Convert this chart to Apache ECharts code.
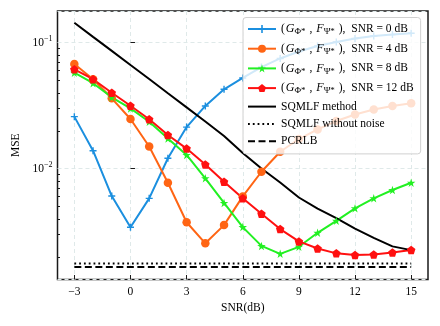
<!DOCTYPE html>
<html>
<head>
<meta charset="utf-8">
<script src="https://cdn.jsdelivr.net/npm/echarts@6/dist/echarts.min.js"></script>
<style>
  html, body { margin: 0; padding: 0; background: #fff; }
  #chart { width: 440px; height: 326px; }
</style>
</head>
<body>
<div id="chart"></div>
<script>
// SNR (dB) on the x axis
var snr = [-3, -2, -1, 0, 1, 2, 3, 4, 5, 6, 7, 8, 9, 10, 11, 12, 13, 14, 15];
var xTicks = [-3, 0, 3, 6, 9, 12, 15];
// minor ticks of the log MSE axis
var yMinor = [0.002, 0.003, 0.004, 0.005, 0.006, 0.007, 0.008, 0.009,
              0.02, 0.03, 0.04, 0.05, 0.06, 0.07, 0.08, 0.09];

// MSE values
var mse0dB  = [0.0259, 0.0139, 0.00607, 0.00343, 0.00582, 0.0121, 0.0214, 0.0315, 0.0427, 0.0525,
               0.0641, 0.0750, 0.0852, 0.0942, 0.1013, 0.108, 0.113, 0.116, 0.119];
var mse4dB  = [0.0678, 0.0513, 0.0362, 0.0248, 0.0150, 0.00774, 0.00376, 0.00256, 0.00357, 0.00603,
               0.00946, 0.01364, 0.0172, 0.0205, 0.0239, 0.0269, 0.0295, 0.0315, 0.0331];
var mse8dB  = [0.0578, 0.0477, 0.0369, 0.0301, 0.0236, 0.0174, 0.01285, 0.00839, 0.00535, 0.00344,
               0.00244, 0.00211, 0.00240, 0.00310, 0.00386, 0.00485, 0.00582, 0.00678, 0.00774];
var mse12dB = [0.0615, 0.0513, 0.0401, 0.0316, 0.0247, 0.0185, 0.01445, 0.01079, 0.00788, 0.00582,
               0.00440, 0.00332, 0.00265, 0.00233, 0.00213, 0.00207, 0.00209, 0.00216, 0.00226];
var sqmlf   = [0.1442, 0.1113, 0.0861, 0.0665, 0.0515, 0.0397, 0.0307, 0.0237, 0.01817, 0.01332,
               0.01004, 0.00777, 0.00591, 0.00483, 0.00406, 0.00335, 0.00283, 0.00242, 0.00226];
var sqmlfNoNoise = [0.00177, 0.00177, 0.00177, 0.00177, 0.00177, 0.00177, 0.00177, 0.00177, 0.00177, 0.00177,
                    0.00177, 0.00177, 0.00177, 0.00177, 0.00177, 0.00177, 0.00177, 0.00177, 0.00177];
var pcrlb   = [0.00166, 0.00166, 0.00166, 0.00166, 0.00166, 0.00166, 0.00166, 0.00166, 0.00166, 0.00166,
               0.00166, 0.00166, 0.00166, 0.00166, 0.00166, 0.00166, 0.00166, 0.00166, 0.00166];

var yMin = 0.001321, yMax = 0.1785;
var serif = 'Liberation Serif, Times New Roman, serif';

var plusSym = 'path://M4,0H6V4H10V6H6V10H4V6H0V4H4Z';
var starSym = 'path://M1,0L1.2245,0.691L1.951,0.691L1.363,1.118L1.588,1.809L1,1.382L0.412,1.809L0.637,1.118L0.049,0.691L0.7755,0.691Z';
var pentSym = 'path://M1,0L1.951,0.691L1.588,1.809L0.412,1.809L0.049,0.691Z';

function pairs(ys) {
    return snr.map(function (x, i) { return [x, ys[i]]; });
}

function lineSeries(name, ys, color, symbol, size, lineType, width) {
    return {
        name: name,
        type: 'line',
        data: pairs(ys),
        symbol: symbol,
        symbolSize: size,
        showSymbol: symbol !== 'none',
        itemStyle: {color: color},
        lineStyle: {color: color, width: width || 2, type: lineType || 'solid'},
        animation: false
    };
}

var mathPart = '({it|G}{sub|Φ*}, {it|F}{sub|Ψ*}),  SNR = ';
var legendText = {
    '0 dB': mathPart + '0 dB',
    '4 dB': mathPart + '4 dB',
    '8 dB': mathPart + '8 dB',
    '12 dB': mathPart + '12 dB'
};

var myChart = echarts.init(document.getElementById('chart'), null, {renderer: 'canvas'});
myChart.setOption({
    animation: false,
    grid: {
        left: 57.5, right: 12, top: 11, bottom: 46.5,
        show: true, borderColor: '#1a1a1a', borderWidth: 1.5, backgroundColor: 'transparent'
    },
    legend: {
        orient: 'vertical',
        left: 243, top: 17.5,
        padding: [3.3, 7, 5.7, 4],
        itemWidth: 28, itemHeight: 10, itemGap: 3.3,
        backgroundColor: 'rgba(255,255,255,0.8)',
        borderColor: '#d0d0d0', borderWidth: 1, borderRadius: 3,
        formatter: function (name) { return legendText[name] || '{p|' + name + '}'; },
        textStyle: {
            fontFamily: serif, fontSize: 11.5, color: '#000', lineHeight: 16.4,
            rich: {
                p: {fontFamily: serif, fontSize: 11.5, lineHeight: 14},
                it: {fontFamily: serif, fontSize: 12, fontStyle: 'italic', lineHeight: 16.4, padding: [0, 0, 0, 1]},
                sub: {fontFamily: serif, fontSize: 9, padding: [6, 4, 0, 0], lineHeight: 16.4}
            }
        },
        data: [
            '0 dB', '4 dB', '8 dB', '12 dB',
            {name: 'SQMLF method', itemStyle: {opacity: 0}},
            {name: 'SQMLF without noise', itemStyle: {opacity: 0}},
            {name: 'PCRLB', itemStyle: {opacity: 0}}
        ]
    },
    xAxis: {
        type: 'value',
        min: -3.9, max: 15.9,
        name: 'SNR(dB)', nameLocation: 'middle', nameGap: 20,
        nameTextStyle: {fontFamily: serif, fontSize: 11.5, color: '#000'},
        axisLine: {show: false},
        axisTick: {show: true, inside: true, length: 4.5, lineStyle: {color: '#1a1a1a', width: 1}, customValues: xTicks},
        axisLabel: {
            customValues: xTicks, margin: 6,
            fontFamily: serif, fontSize: 11.5, color: '#000',
            formatter: function (v) { return v < 0 ? '\u2212' + Math.abs(v) : String(v); }
        },
        splitLine: {show: true, lineStyle: {color: '#dfe9e9', width: 1, type: [4, 3]}}
    },
    yAxis: [{
        type: 'log', logBase: 10,
        min: yMin, max: yMax,
        name: 'MSE', nameLocation: 'middle', nameGap: 35,
        nameTextStyle: {fontFamily: serif, fontSize: 11.5, color: '#000'},
        axisLine: {show: false},
        axisTick: {show: true, inside: true, length: 4.5, lineStyle: {color: '#1a1a1a', width: 1}},
        axisLabel: {
            showMinLabel: false, showMaxLabel: false, margin: 5,
            fontFamily: serif, fontSize: 11.5, color: '#000',
            formatter: function (v) {
                var e = Math.round(Math.log10(v));
                if (Math.abs(Math.log10(v) - e) > 1e-6) return '';
                return '{b|10}{s|\u2212' + (-e) + '}';
            },
            rich: {
                b: {fontFamily: serif, fontSize: 11.5, color: '#000'},
                s: {fontFamily: serif, fontSize: 8, color: '#000', padding: [0, 0, 8, 0]}
            }
        },
        splitLine: {show: true, lineStyle: {color: '#dfe9e9', width: 1, type: [4, 3]}}
    }, {
        // minor ticks only
        type: 'value',
        min: Math.log10(yMin), max: Math.log10(yMax),
        position: 'left',
        axisLine: {show: false},
        axisLabel: {show: false},
        splitLine: {show: false},
        axisTick: {
            show: true, inside: true, length: 2.5,
            lineStyle: {color: '#1a1a1a', width: 1},
            customValues: yMinor.map(function (v) { return Math.log10(v); })
        }
    }],
    series: [
        lineSeries('0 dB', mse0dB, '#1b8fdf', plusSym, 7),
        lineSeries('4 dB', mse4dB, '#ff6514', 'circle', 8.5),
        lineSeries('8 dB', mse8dB, '#22f022', starSym, 8.5),
        lineSeries('12 dB', mse12dB, '#ff1010', pentSym, 8.5),
        lineSeries('SQMLF method', sqmlf, '#000', 'none', 0),
        lineSeries('SQMLF without noise', sqmlfNoNoise, '#000', 'none', 0, [1.8, 3], 1.8),
        lineSeries('PCRLB', pcrlb, '#000', 'none', 0, [7, 3.5], 2.2)
    ]
});
</script>
</body>
</html>
